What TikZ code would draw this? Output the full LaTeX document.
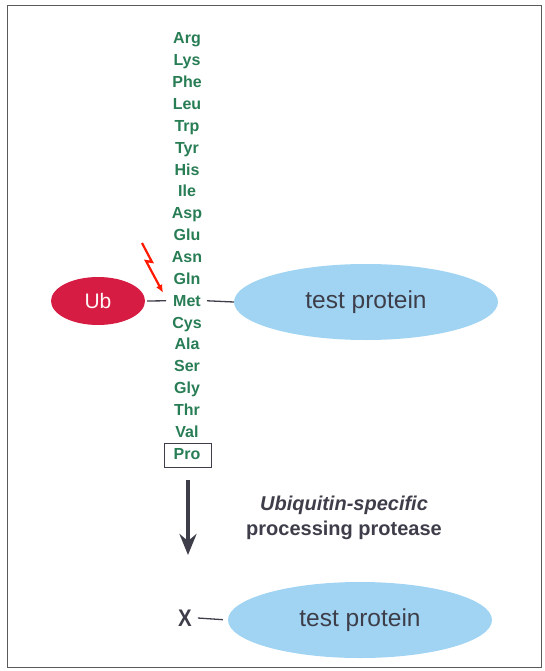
\documentclass[tikz,border=0pt]{standalone}
\usepackage{fontspec}
\setmainfont{Liberation Sans}
\usetikzlibrary{arrows.meta,shapes.geometric}

\definecolor{resgreen}{RGB}{40,125,85}
\definecolor{ubred}{RGB}{215,28,68}
\definecolor{protblue}{RGB}{160,212,242}
\definecolor{ink}{RGB}{62,62,74}
\definecolor{frame}{RGB}{90,90,90}

\begin{document}
\begin{tikzpicture}[x=1pt,y=-1pt,
    res/.style={font=\fontsize{16}{18}\selectfont\bfseries, text=resgreen, inner sep=0pt, anchor=base},
    prot/.style={ellipse, fill=protblue, minimum width=264pt, minimum height=76pt,
        font=\fontsize{24.5}{28}\selectfont, text=ink},
    link/.style={draw=ink, line width=1.3pt},
    bolt/.style={draw=red!80!orange, line width=2.2pt, line join=miter,
        -{Latex[length=8pt,width=7pt]}},
    ]
    \useasboundingbox (0,0) rectangle (545,671);
    \draw[frame, line width=1pt] (7,6) rectangle (541,667);

    % N-terminal residues
    \foreach \aa [count=\i] in {Arg,Lys,Phe,Leu,Trp,Tyr,His,Ile,Asp,Glu,
        Asn,Gln,Met,Cys,Ala,Ser,Gly,Thr,Val,Pro}
        \node[res] (r\i) at (187,{44+(\i-1)*21.85}) {\aa};
    \node[draw=ink, line width=.8pt, minimum width=47pt, minimum height=24pt,
        inner sep=0pt] (probox) at (188,455) {};

    \node[ellipse, fill=ubred, minimum width=94pt, minimum height=48pt,
        font=\fontsize{21}{24}\selectfont, text=white!85!pink] (ub) at (98,301) {Ub};
    \node[prot] (top) at (366,302) {test protein};
    \draw[link] (ub.east) ++(2,0) -- ([xshift=-7pt]r13.west)
        ([xshift=6pt]r13.east) -- (top.west);

    \coordinate (zap) at (142,243);
    \draw[bolt] (zap) -- ++(10,19) -- ++(-6,-1) -- ([xshift=-10pt,yshift=8pt]r13.west);

    % cleavage step
    \node[prot] (bottom) at (360,620) {test protein};
    \node[font=\fontsize{24}{26}\selectfont\bfseries, text=ink, xscale=.85] (x) at (185,618) {X};
    \draw[link, shorten >=5pt] ([xshift=3pt]x.east) -- (bottom.west);
    \draw[draw=ink, line width=4pt, shorten <=13pt, shorten >=63pt,
        -{Stealth[length=21pt,width=17pt,inset=7pt]}] (probox) -- (probox |- x);
    \node[align=center, text=ink, font=\fontsize{20}{25}\selectfont\bfseries]
        (usp) at (344,518) {\textit{Ubiquitin-specific}\\processing protease};
\end{tikzpicture}
\end{document}
